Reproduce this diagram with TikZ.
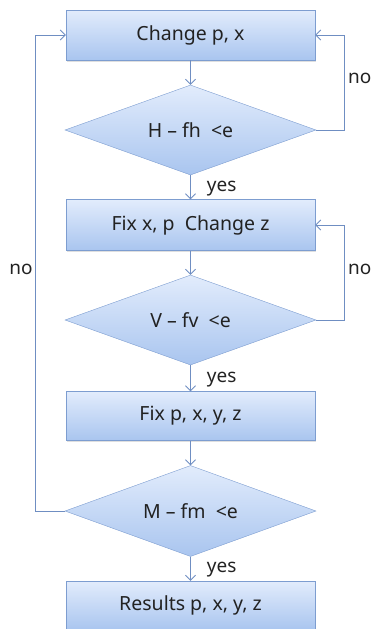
\documentclass[tikz,border=0pt]{standalone}
\usepackage{fontspec}
\setmainfont{Noto Sans}
\usetikzlibrary{positioning,shapes.geometric,arrows.meta,shadows}

\definecolor{boxtop}{HTML}{E2ECFC}
\definecolor{boxbot}{HTML}{A9C5EF}
\definecolor{boxline}{HTML}{7D9DD0}
\definecolor{flowline}{HTML}{6F8EC2}
\definecolor{inktext}{HTML}{222222}

\begin{document}
\begin{tikzpicture}[x=1pt,y=-1pt,
    font=\fontsize{19.5}{22}\selectfont,text=inktext,
    stepbox/.style={rectangle,draw=boxline,top color=boxtop,bottom color=boxbot,
      minimum width=249pt,minimum height=50pt,inner sep=0pt,
      drop shadow={shadow xshift=1pt,shadow yshift=-1.5pt,opacity=0.25}},
    testbox/.style={diamond,draw=boxline,top color=boxtop,bottom color=boxbot,
      minimum width=251pt,minimum height=90pt,aspect=2.79,inner sep=0pt},
    flow/.style={draw=flowline,line width=0.8pt,-{Straight Barb[length=5pt,width=10pt]}},
    tag/.style={inner sep=0pt,font=\fontsize{19}{21}\selectfont}]
\useasboundingbox (0,0) rectangle (371,629);
% main column
\node[stepbox] (chg) at (190.5,35) {Change p, x};
\node[testbox] (hchk) at (190.5,130) {H -- fh \ <e};
\node[stepbox,minimum height=51pt] (fixz) at (190.5,225) {Fix x, p \ Change z};
\node[testbox] (vchk) at (190.5,320) {V -- fv \ <e};
\node[stepbox,minimum height=49pt] (fixall) at (190.5,416) {Fix p, x, y, z};
\node[testbox,minimum height=91pt] (mchk) at (190.5,511) {M -- fm \ <e};
\node[stepbox,minimum height=49pt] (res) at (190.5,605.5) {Results p, x, y, z};
% straight links
\draw[flow] (chg) -- (hchk);
\draw[flow] (hchk) -- node[tag,right=16pt,pos=0.55] (yes1) {yes} (fixz);
\draw[flow] (fixz) -- (vchk);
\draw[flow] (vchk) -- node[tag,right=16pt,pos=0.55] (yes2) {yes} (fixall);
\draw[flow] (fixall) -- (mchk);
\draw[flow] (mchk) -- node[tag,right=16pt,pos=0.55] (yes3) {yes} (res);
% loops back
\draw[flow] (hchk.east) -- ++(28,0) |- (chg.east);
\draw[flow] (vchk.east) -- ++(28,0) |- (fixz.east);
\draw[flow] (mchk.west) -- ++(-29,0) |- (chg.west);
\node[tag,anchor=west] (no1) at (348,78) {no};
\node[tag,anchor=west] (no2) at (348,269) {no};
\node[tag] (no3) at (21,269) {no};
\end{tikzpicture}
\end{document}
